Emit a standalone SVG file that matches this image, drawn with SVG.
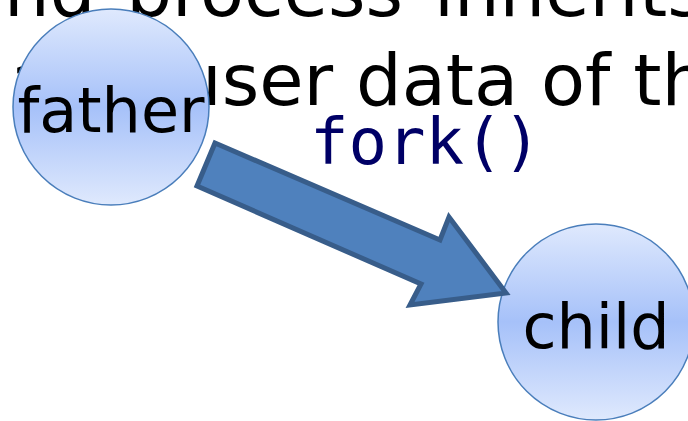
<svg xmlns="http://www.w3.org/2000/svg" width="688" height="421" viewBox="0 0 688 421">
<defs>
<linearGradient id="g" x1="0" y1="0" x2="0" y2="1">
<stop offset="0" stop-color="#dfe9fd"/>
<stop offset="0.5" stop-color="#a6c1f9"/>
<stop offset="1" stop-color="#dfe9fd"/>
</linearGradient>
<style>
.bg{font-family:"DejaVu Sans",sans-serif;font-size:72px;fill:#000}
.node{fill:url(#g);stroke:#4a7ebb;stroke-width:1.5}
.lbl{font-family:"DejaVu Sans",sans-serif;font-size:62px;fill:#000}
.code{font-family:"DejaVu Sans Mono",monospace;font-size:64px;fill:#000066}
.arrow{fill:#4f81bd;stroke:#385d8a;stroke-width:5;stroke-linejoin:miter}
</style>
</defs>
<g id="background-text">
<text class="bg" x="-40" y="16" word-spacing="8">and process inherits</text>
<text class="bg" x="10" y="105">a <tspan x="176">user data of the</tspan></text>
</g>
<g id="father">
<circle class="node" cx="111" cy="107" r="98"/>
<text class="lbl" x="111" y="132" text-anchor="middle">father</text>
</g>
<g id="child">
<circle class="node" cx="596" cy="322" r="98"/>
<text class="lbl" x="596" y="348" text-anchor="middle">child</text>
</g>
<g id="connectors">
<polygon class="arrow" points="215,143 197,186 421,284 410,305 506,293 449,217 440,240"/>
<text class="code" x="310" y="164">fork()</text>
</g>
</svg>
